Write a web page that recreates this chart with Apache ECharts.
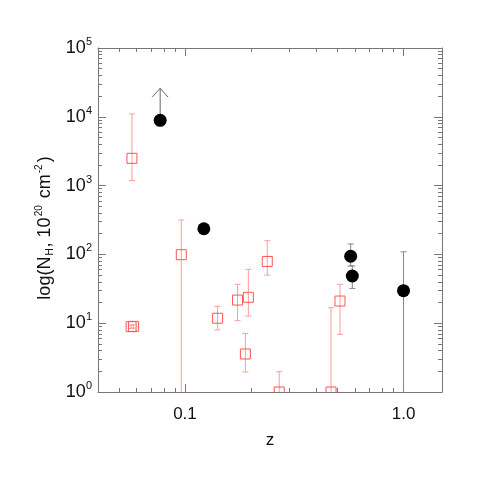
<!DOCTYPE html>
<html>
<head>
<meta charset="utf-8">
<script src="https://cdn.jsdelivr.net/npm/echarts@6/dist/echarts.min.js"></script>
<style>
    html, body { margin: 0; padding: 0; background: #fff; }
    #chart { width: 491px; height: 491px; }
</style>
</head>
<body>
<div id="chart"></div>
<script>
// open red squares: z, N_H, lower, upper
const redZ  = [0.0572, 0.0567, 0.0581, 0.0962, 0.141, 0.174, 0.195, 0.189, 0.238, 0.270, 0.466, 0.512]
const redN  = [2490,   8.9,    9.0,    99,     11.8,  21.7,  23.8,  3.57,  79,    1.0,   1.0,   21]
const redLo = [1180,   8.4,    8.5,    0.1,    8.0,   10.9,  12.7,  1.95,  50,    0.5,   0.5,   6.9]
const redHi = [11000,  9.4,    9.5,    316,    17.6,  36.8,  60.7,  7.1,   158,   1.97,  16.8,  36.8]

// filled black circles
const blackZ  = [0.077, 0.122, 0.573, 0.583, 1.0]
const blackN  = [8900,  236,   94,    48.5,  29.7]
const blackLo = [null,  null,  68,    32,    0.1]
const blackHi = [null,  null,  142,   68,    109]

// lower limit arrow (from circle up to)
const limitZ = [0.077]
const limitFrom = [8900]
const limitTo = [26000]

// axes
const xMin = 0.04, xMax = 1.5
const yMin = 1, yMax = 1e5
const xTickValues = [0.1, 1.0]
const xTickLabels = ['0.1', '1.0']
const yTickValues = [1, 10, 100, 1000, 10000, 100000]
const yTickExps = ['0', '1', '2', '3', '4', '5']

const lg = v => Math.log10(v)

// minor ticks 2..9 per decade
function minorTicks (lo, hi) {
    let out = []
    for (let d = Math.floor(lg(lo)); d <= Math.ceil(lg(hi)); d++) {
        for (let m = 2; m <= 9; m++) {
            let v = m * Math.pow(10, d)
            if (v > lo && v < hi) out.push(lg(v))
        }
    }
    return out
}

const font = "'Liberation Sans', Helvetica, Arial, sans-serif"
const lineColor = '#777'

function axisBase (pos, min, max, ticks, len, showLine) {
    return {
        type: 'value',
        position: pos,
        min: lg(min),
        max: lg(max),
        splitLine: { show: false },
        axisLine: { show: showLine, onZero: false, lineStyle: { color: lineColor, width: 1 } },
        axisTick: { show: true, inside: true, length: len, customValues: ticks, lineStyle: { color: lineColor } },
        axisLabel: { show: false }
    }
}

const xMajor = xTickValues.map(lg)
const yMajor = yTickValues.map(lg)
const xMinor = minorTicks(xMin, xMax)
const yMinor = minorTicks(yMin, yMax)

let xMain = axisBase('bottom', xMin, xMax, xMajor, 8, true)
xMain.axisLabel = {
    show: true,
    customValues: xMajor,
    margin: 14,
    fontFamily: font,
    fontSize: 17,
    color: '#111',
    formatter: v => xTickLabels[xMajor.findIndex(t => Math.abs(t - v) < 1e-6)] || ''
}
xMain.name = 'z'
xMain.nameLocation = 'middle'
xMain.nameGap = 40
xMain.nameTextStyle = { fontFamily: font, fontSize: 17, color: '#111' }

let yMain = axisBase('left', yMin, yMax, yMajor, 8, true)
yMain.axisLabel = {
    show: true,
    customValues: yMajor,
    margin: 6,
    fontFamily: font,
    color: '#111',
    formatter: v => {
        let i = yMajor.findIndex(t => Math.abs(t - v) < 1e-6)
        return i < 0 ? '' : '{b|10}{s|' + yTickExps[i] + '}'
    },
    rich: {
        b: { fontFamily: font, fontSize: 18, color: '#111' },
        s: { fontFamily: font, fontSize: 11, color: '#111', padding: [0, 0, 12, 0] }
    }
}
yMain.name = 'log(N{sub|H}, 10{sup|20} cm{sup|-2})'
yMain.nameLocation = 'middle'
yMain.nameRotate = 90
yMain.nameGap = 42
yMain.nameTextStyle = {
    fontFamily: font,
    fontSize: 18,
    color: '#111',
    padding: [0, 16, 0, 0],
    rich: {
        sub: { fontFamily: font, fontSize: 10, color: '#111', padding: [10, 1, 0, 1] },
        sup: { fontFamily: font, fontSize: 10, color: '#111', padding: [0, 2, 12, 1] }
    }
}

const option = {
    animation: false,
    backgroundColor: '#fff',
    grid: { left: 98, right: 49, top: 48, bottom: 99 },
    xAxis: [
        xMain,
        axisBase('bottom', xMin, xMax, xMinor, 4, false),
        axisBase('top', xMin, xMax, xMajor, 8, true),
        axisBase('top', xMin, xMax, xMinor, 4, false)
    ],
    yAxis: [
        yMain,
        axisBase('left', yMin, yMax, yMinor, 4, false),
        axisBase('right', yMin, yMax, yMajor, 8, true),
        axisBase('right', yMin, yMax, yMinor, 4, false)
    ],
    series: [
        {
            // red open squares with error bars
            type: 'custom',
            xAxisIndex: 0,
            yAxisIndex: 0,
            clip: true,
            data: redZ.map((z, i) => [lg(z), lg(redN[i]), lg(redLo[i]), lg(redHi[i])]),
            encode: { x: 0, y: 1 },
            renderItem: function (params, api) {
                let p = api.coord([api.value(0), api.value(1)])
                let lo = api.coord([api.value(0), api.value(2)])
                let hi = api.coord([api.value(0), api.value(3)])
                let bar = { stroke: '#ff9c9c', lineWidth: 1 }
                return {
                    type: 'group',
                    children: [
                        { type: 'line', shape: { x1: p[0], y1: lo[1], x2: p[0], y2: hi[1] }, style: bar },
                        { type: 'line', shape: { x1: p[0] - 3, y1: lo[1], x2: p[0] + 3, y2: lo[1] }, style: bar },
                        { type: 'line', shape: { x1: p[0] - 3, y1: hi[1], x2: p[0] + 3, y2: hi[1] }, style: bar },
                        { type: 'rect', shape: { x: p[0] - 5, y: p[1] - 5, width: 10, height: 10 },
                          style: { fill: null, stroke: '#ff5555', lineWidth: 1 } }
                    ]
                }
            }
        },
        {
            // black circles with gray error bars
            type: 'custom',
            xAxisIndex: 0,
            yAxisIndex: 0,
            clip: true,
            data: blackZ.map((z, i) => [lg(z), lg(blackN[i]),
                blackLo[i] == null ? lg(blackN[i]) : lg(blackLo[i]),
                blackHi[i] == null ? lg(blackN[i]) : lg(blackHi[i])]),
            encode: { x: 0, y: 1 },
            renderItem: function (params, api) {
                let p = api.coord([api.value(0), api.value(1)])
                let lo = api.coord([api.value(0), api.value(2)])
                let hi = api.coord([api.value(0), api.value(3)])
                let bar = { stroke: '#888', lineWidth: 1 }
                let kids = []
                if (Math.abs(lo[1] - hi[1]) > 0.5) {
                    kids.push(
                        { type: 'line', shape: { x1: p[0], y1: lo[1], x2: p[0], y2: hi[1] }, style: bar },
                        { type: 'line', shape: { x1: p[0] - 3, y1: lo[1], x2: p[0] + 3, y2: lo[1] }, style: bar },
                        { type: 'line', shape: { x1: p[0] - 3, y1: hi[1], x2: p[0] + 3, y2: hi[1] }, style: bar }
                    )
                }
                kids.push({ type: 'circle', shape: { cx: p[0], cy: p[1], r: 6.5 }, style: { fill: '#000' } })
                return { type: 'group', children: kids }
            }
        },
        {
            // lower limit arrow
            type: 'custom',
            xAxisIndex: 0,
            yAxisIndex: 0,
            clip: true,
            z: 1,
            data: limitZ.map((z, i) => [lg(z), lg(limitFrom[i]), lg(limitTo[i])]),
            encode: { x: 0, y: 1 },
            renderItem: function (params, api) {
                let a = api.coord([api.value(0), api.value(1)])
                let b = api.coord([api.value(0), api.value(2)])
                let st = { stroke: '#666', lineWidth: 1, fill: null }
                return {
                    type: 'group',
                    children: [
                        { type: 'line', shape: { x1: a[0], y1: a[1], x2: b[0], y2: b[1] }, style: st },
                        { type: 'polyline', shape: { points: [[b[0] - 8, b[1] + 9], [b[0], b[1]], [b[0] + 8, b[1] + 9]] }, style: st }
                    ]
                }
            }
        }
    ]
}

const chart = echarts.init(document.getElementById('chart'), null, { renderer: 'canvas' })
chart.setOption(option)
</script>
</body>
</html>
